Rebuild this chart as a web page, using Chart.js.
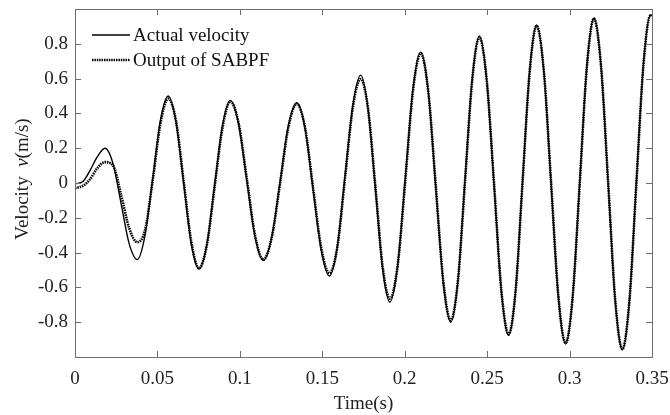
<!DOCTYPE html>
<html><head><meta charset="utf-8">
<script src="https://cdn.jsdelivr.net/npm/chart.js@4/dist/chart.umd.min.js"></script>
<style>html,body{margin:0;padding:0;background:#fff;}canvas{display:block;}</style>
</head><body>
<canvas id="c" width="670" height="415"></canvas>
<script>
const time = [0,0.005,0.009,0.0135,0.0182,0.0231,0.028,0.0329,0.0378,0.0425,0.0472,0.0518,0.0565,0.0612,0.0659,0.0705,0.0752,0.0800,0.0847,0.0895,0.0942,0.0992,0.1042,0.1092,0.1142,0.1193,0.1244,0.1294,0.1345,0.1395,0.1444,0.1494,0.1543,0.1591,0.1638,0.1686,0.1733,0.1777,0.1822,0.1866,0.1910,0.1957,0.2004,0.2050,0.2097,0.2143,0.2188,0.2234,0.2279,0.2323,0.2366,0.2410,0.2453,0.2497,0.2542,0.2586,0.2630,0.2673,0.2715,0.2758,0.2800,0.2844,0.2888,0.2932,0.2976,0.3019,0.3062,0.3105,0.3148,0.3191,0.3234,0.3277,0.3320,0.3363,0.3405,0.3448,0.3490,0.3500];
const actualVelocity = [-0.005,0.01,0.07,0.15,0.20,0.11,-0.12,-0.35,-0.44,-0.30,0.03,0.36,0.50,0.354,0.0,-0.349,-0.495,-0.353,-0.01,0.333,0.475,0.340,0.015,-0.310,-0.445,-0.312,0.008,0.329,0.462,0.316,-0.037,-0.389,-0.535,-0.366,0.043,0.451,0.62,0.429,-0.033,-0.494,-0.685,-0.474,0.034,0.541,0.752,0.525,-0.024,-0.573,-0.80,-0.559,0.023,0.604,0.845,0.593,-0.015,-0.623,-0.875,-0.614,0.017,0.647,0.908,0.640,-0.009,-0.657,-0.925,-0.651,0.012,0.674,0.948,0.669,-0.005,-0.679,-0.958,-0.676,0.004,0.683,0.965,0.963];
const sabpfOutput = [-0.03,-0.015,0.02,0.085,0.12,0.10,-0.07,-0.26,-0.34,-0.27,0.02,0.34,0.485,0.36,0.01,-0.335,-0.49,-0.355,-0.02,0.32,0.468,0.345,0.025,-0.30,-0.44,-0.315,-0.002,0.318,0.455,0.32,-0.027,-0.375,-0.518,-0.37,0.03,0.44,0.598,0.43,-0.02,-0.48,-0.665,-0.475,0.022,0.53,0.745,0.525,-0.012,-0.565,-0.79,-0.56,0.012,0.596,0.838,0.595,-0.005,-0.615,-0.87,-0.615,0.007,0.64,0.903,0.642,0.001,-0.65,-0.92,-0.652,0.002,0.668,0.945,0.67,0.005,-0.673,-0.955,-0.677,-0.006,0.677,0.962,0.962];
const seriesLabels = ['Actual velocity','Output of SABPF'];
const xTickValues = [0,0.05,0.1,0.15,0.2,0.25,0.3,0.35];
const xTickLabels = ['0','0.05','0.1','0.15','0.2','0.25','0.3','0.35'];
const yTickValues = [-0.8,-0.6,-0.4,-0.2,0,0.2,0.4,0.6,0.8];
const yTickLabels = ['-0.8','-0.6','-0.4','-0.2','0','0.2','0.4','0.6','0.8'];
const xTitle = 'Time(s)';
const yTitleParts = [['Velocity  ', false], ['v', true], ['(m/s)', false]];

const FONT = 'Liberation Serif';
Chart.defaults.font.family = FONT;

const toPoints = ys => time.map((t, i) => ({x: t, y: ys[i]}));
const labelFor = (vals, labs) => v => { const i = vals.findIndex(t => Math.abs(t - v) < 1e-9); return i >= 0 ? labs[i] : ''; };

const frame = {
  id: 'frame',
  afterDraw(chart) {
    const {ctx, chartArea: a, scales} = chart;
    ctx.save();
    ctx.strokeStyle = '#6e6e6e';
    ctx.lineWidth = 1;
    ctx.strokeRect(Math.round(a.left) + 0.5, Math.round(a.top) + 0.5, Math.round(a.right - a.left), Math.round(a.bottom - a.top));
    const tl = 6;
    ctx.beginPath();
    xTickValues.forEach(v => {
      const x = Math.round(scales.x.getPixelForValue(v)) + 0.5;
      ctx.moveTo(x, a.bottom); ctx.lineTo(x, a.bottom - tl);
      ctx.moveTo(x, a.top); ctx.lineTo(x, a.top + tl);
    });
    yTickValues.forEach(v => {
      const y = Math.round(scales.y.getPixelForValue(v)) + 0.5;
      ctx.moveTo(a.left, y); ctx.lineTo(a.left + tl, y);
      ctx.moveTo(a.right, y); ctx.lineTo(a.right - tl, y);
    });
    ctx.stroke();

    // legend
    const ds = chart.data.datasets;
    const lx0 = a.left + 17, lx1 = a.left + 55, ty = [a.top + 26, a.top + 51];
    ds.forEach((d, i) => {
      ctx.save();
      ctx.strokeStyle = d.borderColor;
      ctx.lineWidth = d.borderWidth;
      ctx.setLineDash(d.borderDash || []);
      ctx.beginPath(); ctx.moveTo(lx0, ty[i]); ctx.lineTo(lx1, ty[i]); ctx.stroke();
      ctx.restore();
      ctx.fillStyle = '#111';
      ctx.font = '19px ' + FONT;
      ctx.textBaseline = 'middle';
      ctx.textAlign = 'left';
      ctx.fillText(d.label, lx1 + 3, ty[i] + 1);
    });

    // y title
    ctx.save();
    ctx.translate(28, (a.top + a.bottom) / 2 - 4);
    ctx.rotate(-Math.PI / 2);
    ctx.fillStyle = '#222';
    ctx.textBaseline = 'alphabetic';
    ctx.textAlign = 'left';
    const fs = yTitleParts.map(p => (p[1] ? 'italic ' : '') + '19px ' + FONT);
    let total = 0;
    const widths = yTitleParts.map((p, i) => { ctx.font = fs[i]; const w = ctx.measureText(p[0]).width; total += w; return w; });
    let x = -total / 2;
    yTitleParts.forEach((p, i) => { ctx.font = fs[i]; ctx.fillText(p[0], x, 0); x += widths[i]; });
    ctx.restore();
    ctx.restore();
  }
};

new Chart(document.getElementById('c'), {
  type: 'line',
  data: {
    datasets: [
      {label: seriesLabels[0], data: toPoints(actualVelocity), borderColor: '#000', borderWidth: 1.4, pointRadius: 0, cubicInterpolationMode: 'monotone', fill: false, order: 1},
      {label: seriesLabels[1], data: toPoints(sabpfOutput), borderColor: '#000', borderWidth: 2.6, borderDash: [1.5, 0.9], pointRadius: 0, cubicInterpolationMode: 'monotone', fill: false, order: 0}
    ]
  },
  options: {
    responsive: false, animation: false, devicePixelRatio: 1,
    layout: {padding: {left: 0, right: 18, top: 9, bottom: 0}},
    plugins: {legend: {display: false}, tooltip: {enabled: false}},
    scales: {
      x: {
        type: 'linear', min: 0, max: 0.35,
        grid: {display: false, drawTicks: false}, border: {display: false},
        afterBuildTicks: s => { s.ticks = xTickValues.map(v => ({value: v})); },
        afterFit: s => { s.height = 58; s.paddingLeft = 0; s.paddingRight = 0; },
        ticks: {autoSkip: false, maxRotation: 0, padding: 11, color: '#222', font: {size: 19}, callback: labelFor(xTickValues, xTickLabels)},
        title: {display: true, text: xTitle, color: '#222', font: {size: 19}, padding: {top: 0, bottom: 0}}
      },
      y: {
        type: 'linear', min: -1, max: 1,
        grid: {display: false, drawTicks: false}, border: {display: false},
        afterBuildTicks: s => { s.ticks = yTickValues.map(v => ({value: v})); },
        afterFit: s => { s.width = 75; s.paddingTop = 0; s.paddingBottom = 0; },
        ticks: {autoSkip: false, padding: 7, color: '#222', font: {size: 19}, callback: labelFor(yTickValues, yTickLabels)}
      }
    }
  },
  plugins: [frame]
});
</script>
</body></html>
